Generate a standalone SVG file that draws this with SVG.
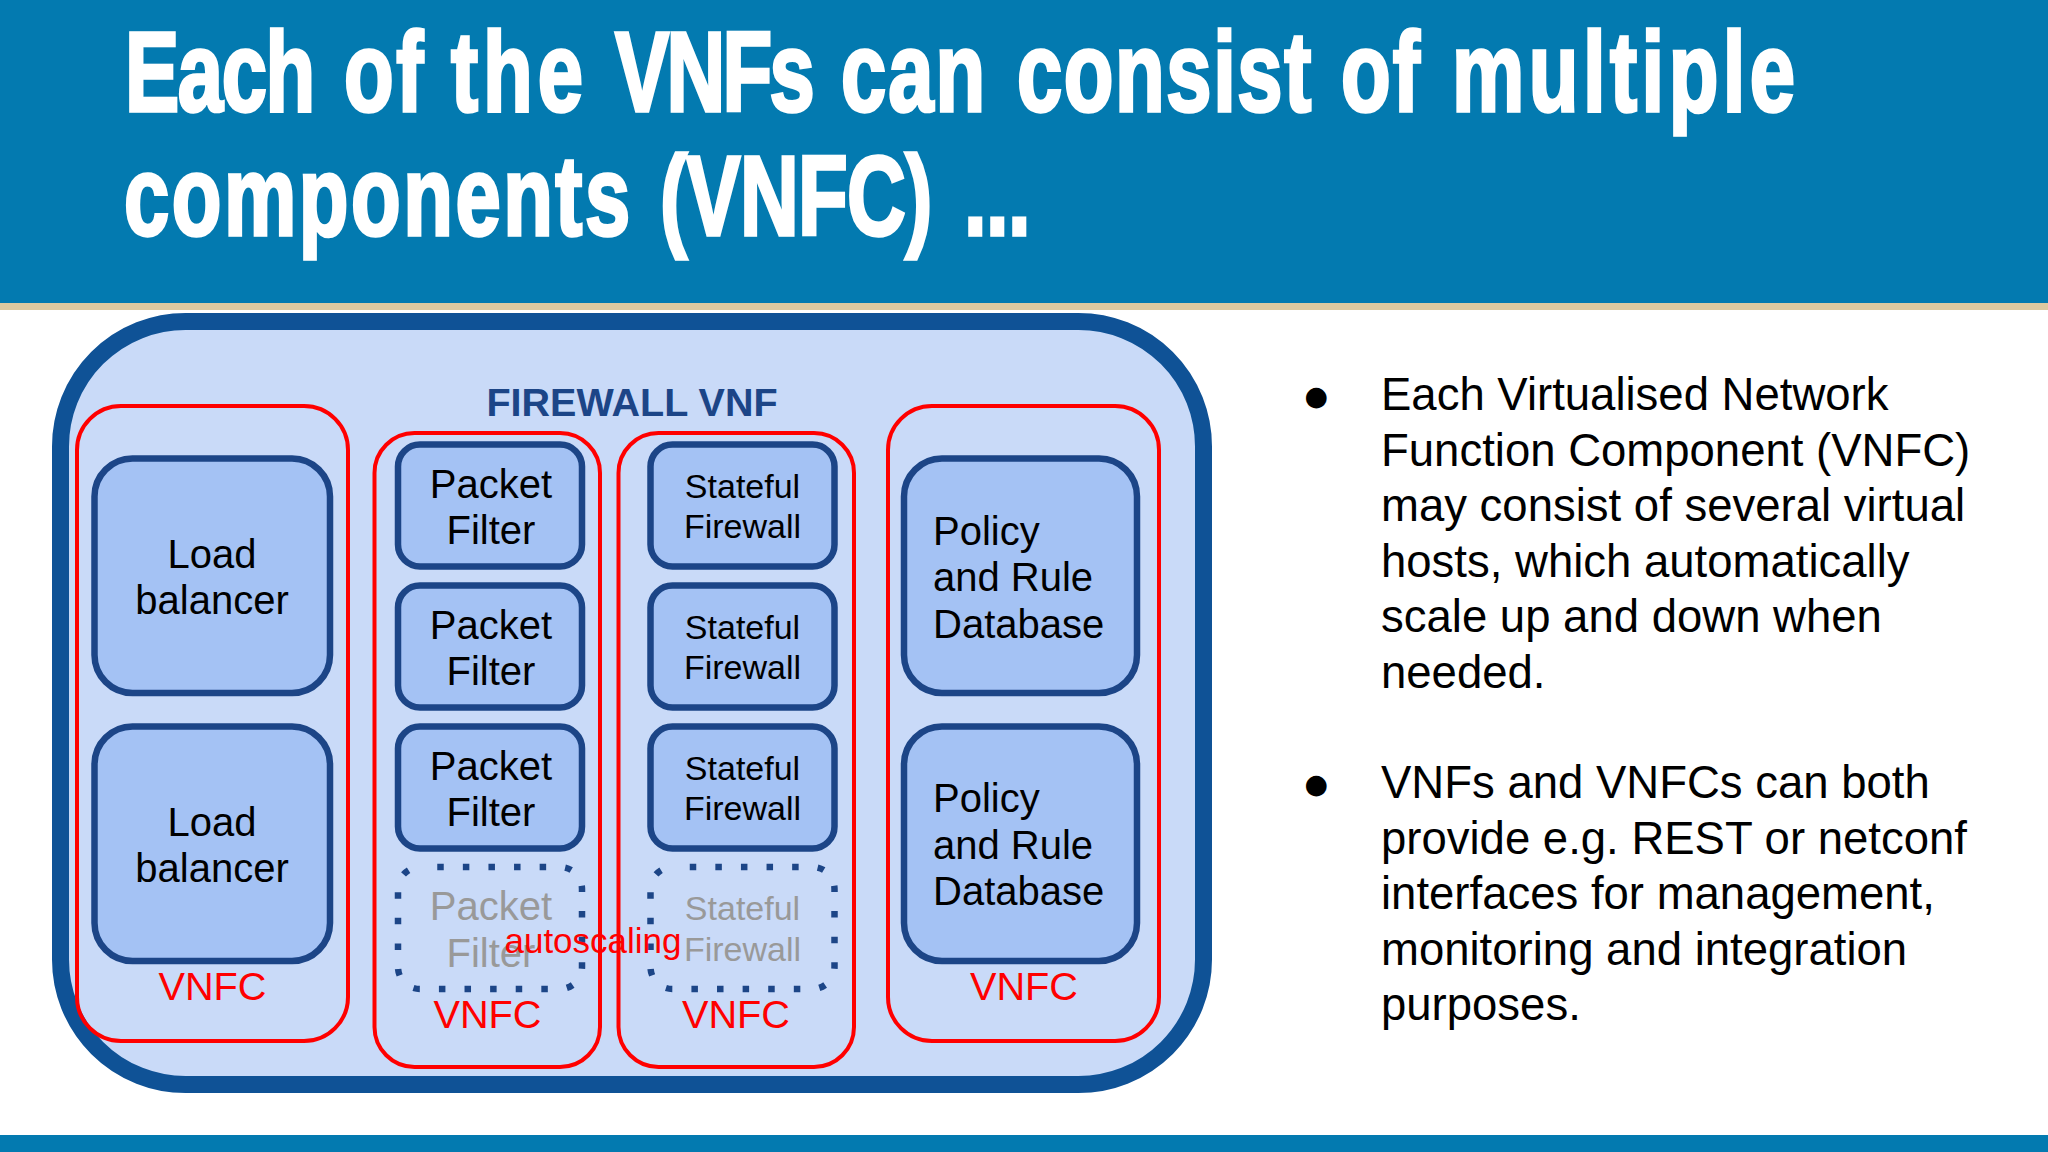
<svg xmlns="http://www.w3.org/2000/svg" width="2048" height="1152" viewBox="0 0 2048 1152">
<style>
text{font-family:"Liberation Sans",Arial,sans-serif}
.t{font-weight:700;font-size:113px;fill:#fff;stroke:#fff;stroke-width:3.5}
.n{font-size:40px;fill:#000;text-anchor:middle}
.s{font-size:34px;fill:#000;text-anchor:middle}
.g{fill:#999}
.l{font-size:40px;fill:#000}
.v{font-size:39.700px;fill:#f00;text-anchor:middle}
.b{fill:#a4c2f4;stroke:#1c4587;stroke-width:6.5}
.d{fill:none;stroke:#1c4587;stroke-width:6.5;stroke-dasharray:6.5 19.1;stroke-dashoffset:8.35}
.r{fill:none;stroke:#f00;stroke-width:4}
.p{font-size:45.5px;fill:#000}
.o{font-family:"DejaVu Sans",sans-serif;font-size:27px;fill:#000}
</style>
<rect width="2048" height="1152" fill="#fff"/>
<rect width="2048" height="303" fill="#037ab0"/>
<rect y="303" width="2048" height="7" fill="#dcc9a0"/>
<rect y="1135" width="2048" height="17" fill="#037ab0"/>
<text class="t" y="111.500" transform="scale(.72 1)"><tspan x="173.600" letter-spacing="-1.900">Each</tspan> <tspan x="477.800" letter-spacing="3.600">of</tspan> <tspan x="626.400" letter-spacing="7">the</tspan> <tspan x="854.200" letter-spacing="-3.800">VNFs</tspan> <tspan x="1168" letter-spacing="2.800">can</tspan> <tspan x="1412.500" letter-spacing="2.200">consist</tspan> <tspan x="1862.500" letter-spacing="2.900">of</tspan> <tspan x="2016.700" letter-spacing="6.200">multiple</tspan></text>
<text class="t" y="235" transform="scale(.72 1)"><tspan x="172.200" letter-spacing="3.500">components</tspan> <tspan x="916.500" letter-spacing="-.9">(VNFC)</tspan> <tspan x="1338.900" letter-spacing="-.9">...</tspan></text>
<g id="firewall-vnf">
<rect x="60.500" y="321.500" width="1143" height="763" rx="125" fill="#c9daf8" stroke="#0f5296" stroke-width="17"/>
<text x="632" y="416" font-size="39.500" font-weight="700" fill="#1c4587" text-anchor="middle">FIREWALL VNF</text>
</g>
<g id="lb-1"><rect class="b" x="94.500" y="458.500" width="235.500" height="234.500" rx="38"/><text class="n" x="212" y="568">Load</text><text class="n" x="212" y="614">balancer</text></g>
<g id="lb-2"><rect class="b" x="94.500" y="726.500" width="235.500" height="234.500" rx="38"/><text class="n" x="212" y="836">Load</text><text class="n" x="212" y="882">balancer</text></g>
<g id="pf-1"><rect class="b" x="398" y="444.500" width="184" height="122" rx="22"/><text class="n" x="491" y="498">Packet</text><text class="n" x="491" y="544">Filter</text></g>
<g id="pf-2"><rect class="b" x="398" y="585.500" width="184" height="122" rx="22"/><text class="n" x="491" y="639">Packet</text><text class="n" x="491" y="685">Filter</text></g>
<g id="pf-3"><rect class="b" x="398" y="726.500" width="184" height="122" rx="22"/><text class="n" x="491" y="780">Packet</text><text class="n" x="491" y="826">Filter</text></g>
<g id="pf-4"><rect class="d" x="398" y="867" width="184" height="122" rx="22"/><text class="n g" x="491" y="920">Packet</text><text class="n g" x="491" y="967">Filter</text></g>
<g id="sf-1"><rect class="b" x="650.500" y="444.500" width="184" height="122" rx="22"/><text class="s" x="742.500" y="498">Stateful</text><text class="s" x="742.500" y="538">Firewall</text></g>
<g id="sf-2"><rect class="b" x="650.500" y="585.500" width="184" height="122" rx="22"/><text class="s" x="742.500" y="639">Stateful</text><text class="s" x="742.500" y="679">Firewall</text></g>
<g id="sf-3"><rect class="b" x="650.500" y="726.500" width="184" height="122" rx="22"/><text class="s" x="742.500" y="780">Stateful</text><text class="s" x="742.500" y="820">Firewall</text></g>
<g id="sf-4"><rect class="d" x="650.500" y="867" width="184" height="122" rx="22"/><text class="s g" x="742.500" y="920">Stateful</text><text class="s g" x="742.500" y="961">Firewall</text></g>
<g id="db-1"><rect class="b" x="904" y="458.500" width="233" height="234.500" rx="38"/><text class="l" x="933" y="544.500">Policy</text><text class="l" x="933" y="590.500">and Rule</text><text class="l" x="933" y="637.500">Database</text></g>
<g id="db-2"><rect class="b" x="904" y="726.500" width="233" height="234.500" rx="38"/><text class="l" x="933" y="811.500">Policy</text><text class="l" x="933" y="858.500">and Rule</text><text class="l" x="933" y="904.500">Database</text></g>
<g id="vnfc-1"><rect class="r" x="77" y="406" width="271" height="635" rx="44"/><text class="v" x="212.500" y="1000">VNFC</text></g>
<g id="vnfc-2"><rect class="r" x="374.500" y="433" width="225.500" height="634" rx="40"/><text class="v" x="487.500" y="1028">VNFC</text></g>
<g id="vnfc-3"><rect class="r" x="618.500" y="433" width="235.500" height="634" rx="40"/><text class="v" x="736" y="1028">VNFC</text></g>
<g id="vnfc-4"><rect class="r" x="888" y="406" width="271" height="635" rx="44"/><text class="v" x="1024" y="1000">VNFC</text></g>
<text x="593" y="953" font-size="35" fill="#f00" text-anchor="middle">autoscaling</text>
<g id="bullets">
<text class="o" x="1304.500" y="404.500">●</text>
<text class="p" x="1381" y="410">Each Virtualised Network</text>
<text class="p" x="1381" y="465.500">Function Component (VNFC)</text>
<text class="p" x="1381" y="521.200">may consist of several virtual</text>
<text class="p" x="1381" y="576.500">hosts, which automatically</text>
<text class="p" x="1381" y="632.200">scale up and down when</text>
<text class="p" x="1381" y="687.500">needed.</text>
<text class="o" x="1304.500" y="792.500">●</text>
<text class="p" x="1381" y="798">VNFs and VNFCs can both</text>
<text class="p" x="1381" y="853.500">provide e.g. REST or netconf</text>
<text class="p" x="1381" y="909.200">interfaces for management,</text>
<text class="p" x="1381" y="964.500">monitoring and integration</text>
<text class="p" x="1381" y="1020.200">purposes.</text>
</g>
</svg>
